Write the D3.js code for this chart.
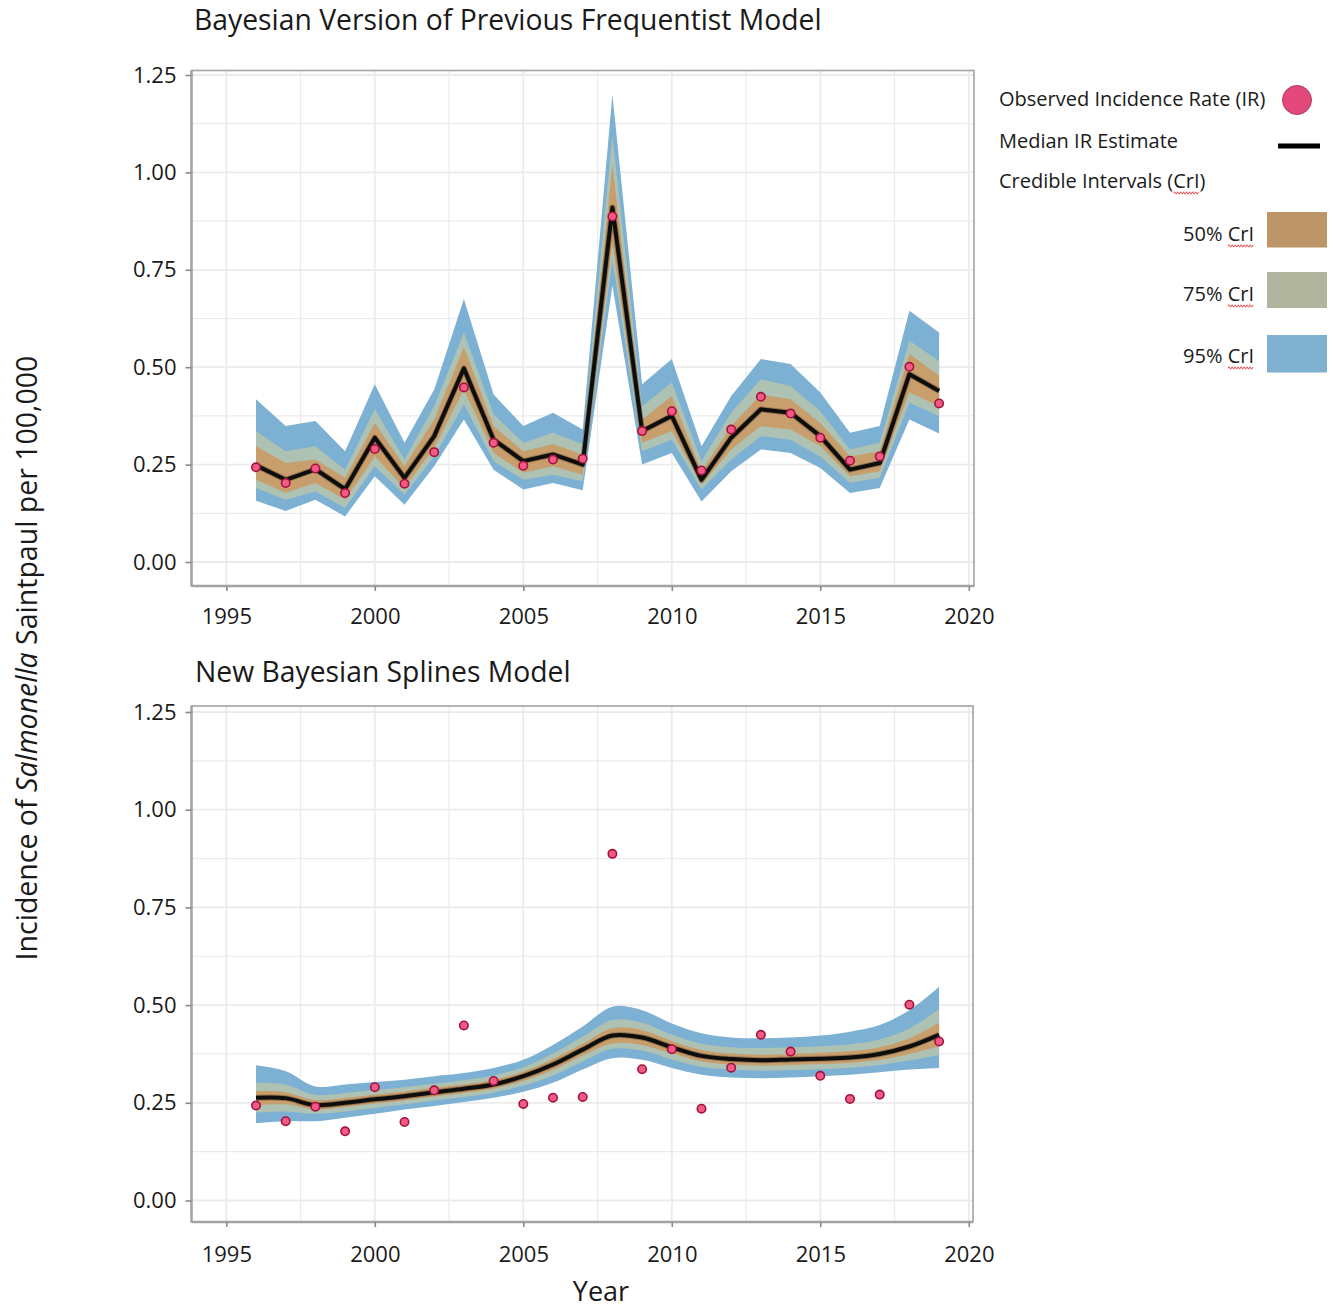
<!DOCTYPE html>
<html>
<head>
<meta charset="utf-8">
<script src="https://cdn.jsdelivr.net/npm/d3@7"></script>
<style>
  html, body { margin: 0; padding: 0; background: #ffffff; }
  svg { display: block; }
  text { font-family: "Open Sans", "Noto Sans", sans-serif; fill: #1a1a1a; }
</style>
</head>
<body>
<svg id="chart" width="1333" height="1308"></svg>
<script>
// ---------------- DATA ----------------
const years = [1996, 1997, 1998, 1999, 2000, 2001, 2002, 2003, 2004, 2005, 2006, 2007,
               2008, 2009, 2010, 2011, 2012, 2013, 2014, 2015, 2016, 2017, 2018, 2019];

// Observed incidence rate (same in both panels)
const observed = [0.243, 0.203, 0.240, 0.177, 0.290, 0.201, 0.282, 0.448, 0.306, 0.247, 0.263, 0.265,
                  0.887, 0.336, 0.387, 0.235, 0.340, 0.424, 0.381, 0.319, 0.260, 0.271, 0.501, 0.407];

// Top panel: Bayesian version of previous frequentist model
const topMedian = [0.248, 0.211, 0.238, 0.187, 0.319, 0.216, 0.323, 0.497, 0.314, 0.259, 0.276, 0.250,
                   0.910, 0.336, 0.375, 0.211, 0.319, 0.392, 0.383, 0.323, 0.237, 0.254, 0.482, 0.439];
const topLo95 = [0.157, 0.131, 0.160, 0.117, 0.220, 0.147, 0.246, 0.366, 0.237, 0.186, 0.203, 0.184,
                 0.710, 0.250, 0.280, 0.155, 0.233, 0.289, 0.280, 0.241, 0.177, 0.190, 0.366, 0.330];
const topHi95 = [0.418, 0.349, 0.362, 0.284, 0.456, 0.306, 0.443, 0.675, 0.430, 0.349, 0.383, 0.340,
                 1.200, 0.456, 0.521, 0.297, 0.426, 0.521, 0.508, 0.435, 0.332, 0.349, 0.645, 0.589];
const topLo75 = [0.190, 0.160, 0.181, 0.139, 0.246, 0.173, 0.271, 0.405, 0.259, 0.211, 0.224, 0.207,
                 0.775, 0.284, 0.314, 0.186, 0.263, 0.323, 0.314, 0.271, 0.203, 0.216, 0.409, 0.375];
const topHi75 = [0.336, 0.284, 0.297, 0.237, 0.392, 0.263, 0.400, 0.589, 0.379, 0.306, 0.332, 0.302,
                 1.095, 0.400, 0.461, 0.259, 0.383, 0.469, 0.452, 0.387, 0.289, 0.306, 0.568, 0.516];
const topLo50 = [0.211, 0.178, 0.203, 0.160, 0.271, 0.190, 0.293, 0.443, 0.280, 0.229, 0.246, 0.224,
                 0.815, 0.306, 0.336, 0.198, 0.289, 0.349, 0.340, 0.297, 0.220, 0.233, 0.435, 0.400];
const topHi50 = [0.297, 0.254, 0.263, 0.216, 0.357, 0.246, 0.366, 0.551, 0.349, 0.284, 0.302, 0.276,
                 1.020, 0.366, 0.426, 0.233, 0.349, 0.430, 0.418, 0.357, 0.271, 0.284, 0.534, 0.478];

// Bottom panel: new Bayesian splines model
const splMedian = [0.263, 0.262, 0.244, 0.250, 0.259, 0.267, 0.277, 0.286, 0.297, 0.318, 0.348, 0.386,
                   0.422, 0.417, 0.392, 0.370, 0.362, 0.359, 0.361, 0.363, 0.366, 0.375, 0.394, 0.424];
const splLo95 = [0.198, 0.203, 0.203, 0.212, 0.222, 0.233, 0.242, 0.252, 0.263, 0.278, 0.301, 0.335,
                 0.364, 0.360, 0.339, 0.322, 0.315, 0.313, 0.315, 0.318, 0.322, 0.328, 0.335, 0.339];
const splHi95 = [0.346, 0.331, 0.292, 0.297, 0.303, 0.309, 0.318, 0.326, 0.339, 0.360, 0.398, 0.445,
                 0.496, 0.487, 0.453, 0.428, 0.417, 0.415, 0.417, 0.422, 0.432, 0.449, 0.487, 0.547];
const splLo75 = [0.225, 0.228, 0.222, 0.228, 0.237, 0.246, 0.256, 0.265, 0.276, 0.294, 0.320, 0.356,
                 0.388, 0.384, 0.361, 0.342, 0.335, 0.332, 0.334, 0.336, 0.340, 0.347, 0.358, 0.372];
const splHi75 = [0.301, 0.296, 0.270, 0.275, 0.283, 0.290, 0.299, 0.308, 0.320, 0.341, 0.376, 0.419,
                 0.462, 0.455, 0.424, 0.401, 0.392, 0.390, 0.392, 0.395, 0.400, 0.412, 0.440, 0.490];
const splLo50 = [0.244, 0.246, 0.233, 0.239, 0.248, 0.256, 0.266, 0.275, 0.286, 0.306, 0.334, 0.371,
                 0.402, 0.398, 0.376, 0.356, 0.348, 0.345, 0.347, 0.349, 0.352, 0.360, 0.375, 0.395];
const splHi50 = [0.280, 0.277, 0.257, 0.262, 0.271, 0.279, 0.289, 0.297, 0.309, 0.330, 0.362, 0.401,
                 0.441, 0.436, 0.408, 0.385, 0.376, 0.373, 0.375, 0.378, 0.382, 0.392, 0.415, 0.455];

const xTicks = [1995, 2000, 2005, 2010, 2015, 2020];
const xMinor = [1997.5, 2002.5, 2007.5, 2012.5, 2017.5];
const yTicks = [0, 0.25, 0.5, 0.75, 1.0, 1.25];
const yMinor = [0.125, 0.375, 0.625, 0.875, 1.125];
const yTickLabels = ["0.00", "0.25", "0.50", "0.75", "1.00", "1.25"];

const legendItems = ["Observed Incidence Rate (IR)", "Median IR Estimate", "Credible Intervals (CrI)"];
const intervalLabels = ["50% CrI", "75% CrI", "95% CrI"];

// ---------------- STYLE ----------------
const C95 = "#7db1d3", C75 = "#aec2b4", C50 = "#c89e6c";
const L50 = "#bd9668", L75 = "#b2b59e", L95 = "#7fb0d0";
const GRID = "#ebebeb";
const BORDER = "#a3a3a3";
const TICK_FONT = "22px";
const TITLE_FONT = "28.3px";
const LEG_FONT = "20px";

const svg = d3.select("#chart");

function drawPanel(cfg) {
  const g = svg.append("g");
  const x = d3.scaleLinear().domain([1995, 2020]).range([226.3, 968.8]);
  const y = d3.scaleLinear().domain([0, 1.25]).range(cfg.yRange);
  const [L, R, T, B] = [cfg.left, cfg.right, cfg.top, cfg.bottom];

  // minor grid
  g.selectAll(".gmy").data(yMinor).join("line")
    .attr("x1", L).attr("x2", R).attr("y1", d => y(d)).attr("y2", d => y(d))
    .attr("stroke", GRID).attr("stroke-width", 1.2);
  g.selectAll(".gmx").data(xMinor).join("line")
    .attr("x1", d => x(d)).attr("x2", d => x(d)).attr("y1", T).attr("y2", B)
    .attr("stroke", GRID).attr("stroke-width", 1.2);
  // major grid
  g.selectAll(".gy").data(yTicks).join("line")
    .attr("x1", L).attr("x2", R).attr("y1", d => y(d)).attr("y2", d => y(d))
    .attr("stroke", GRID).attr("stroke-width", 1.8);
  g.selectAll(".gx").data(xTicks).join("line")
    .attr("x1", d => x(d)).attr("x2", d => x(d)).attr("y1", T).attr("y2", B)
    .attr("stroke", GRID).attr("stroke-width", 1.8);

  const curve = cfg.smooth ? d3.curveCatmullRom.alpha(0.5) : d3.curveLinear;
  const band = (lo, hi) => d3.area()
      .x((d, i) => x(years[i])).y0((d, i) => y(lo[i])).y1((d, i) => y(hi[i])).curve(curve);

  g.append("path").datum(years).attr("d", band(cfg.lo95, cfg.hi95)).attr("fill", C95);
  g.append("path").datum(years).attr("d", band(cfg.lo75, cfg.hi75)).attr("fill", C75);
  g.append("path").datum(years).attr("d", band(cfg.lo50, cfg.hi50)).attr("fill", C50);

  const line = d3.line().x((d, i) => x(years[i])).y(d => y(d)).curve(curve);
  g.append("path").datum(cfg.median).attr("d", line)
    .attr("fill", "none").attr("stroke", "#3a2a1a").attr("stroke-width", 6).attr("stroke-opacity", 0.35)
    .attr("stroke-linejoin", "round");
  g.append("path").datum(cfg.median).attr("d", line)
    .attr("fill", "none").attr("stroke", "#0d0d0d").attr("stroke-width", 4)
    .attr("stroke-linejoin", "round");

  g.selectAll(".pt").data(observed).join("circle")
    .attr("cx", (d, i) => x(years[i])).attr("cy", d => y(d)).attr("r", 4.2)
    .attr("fill", "#f25a86").attr("stroke", "#a3123d").attr("stroke-width", 1.6);

  // panel border
  g.append("rect").attr("x", L).attr("y", T).attr("width", R - L).attr("height", B - T)
    .attr("fill", "none").attr("stroke", BORDER).attr("stroke-width", 1.6);
  g.append("line").attr("x1", L).attr("x2", L).attr("y1", T).attr("y2", B)
    .attr("stroke", BORDER).attr("stroke-width", 2.4);
  g.append("line").attr("x1", L).attr("x2", R).attr("y1", B).attr("y2", B)
    .attr("stroke", BORDER).attr("stroke-width", 2.4);

  // axes (d3 axes, restyled)
  const yAxis = d3.axisLeft(y).tickValues(yTicks).tickSize(6).tickPadding(9)
    .tickFormat((d, i) => yTickLabels[i]);
  const ya = g.append("g").attr("transform", `translate(${L},0)`).call(yAxis);
  const xAxis = d3.axisBottom(x).tickValues(xTicks).tickSize(5).tickPadding(cfg.xPad)
    .tickFormat(d3.format("d"));
  const xa = g.append("g").attr("transform", `translate(0,${B})`).call(xAxis);
  [ya, xa].forEach(a => {
    a.select(".domain").remove();
    a.selectAll(".tick line").attr("stroke", "#8a8a8a").attr("stroke-width", 1.6);
    a.selectAll(".tick text").attr("fill", "#1a1a1a")
      .style("font-family", '"Open Sans", sans-serif').style("font-size", TICK_FONT);
  });

  svg.append("text").attr("x", cfg.titleX).attr("y", cfg.titleY)
    .style("font-size", TITLE_FONT).text(cfg.title);
}

drawPanel({
  title: "Bayesian Version of Previous Frequentist Model", titleX: 194, titleY: 30,
  left: 191.5, right: 974, top: 70.5, bottom: 586, xPad: 17,
  yRange: [562, 75],
  smooth: false,
  median: topMedian, lo95: topLo95, hi95: topHi95, lo75: topLo75, hi75: topHi75, lo50: topLo50, hi50: topHi50
});

drawPanel({
  title: "New Bayesian Splines Model", titleX: 195, titleY: 682,
  left: 191.5, right: 973, top: 706, bottom: 1222, xPad: 19,
  yRange: [1200.5, 712],
  smooth: true,
  median: splMedian, lo95: splLo95, hi95: splHi95, lo75: splLo75, hi75: splHi75, lo50: splLo50, hi50: splHi50
});

// Axis titles
const yt = svg.append("text")
  .attr("transform", "translate(37,658) rotate(-90)")
  .attr("text-anchor", "middle").style("font-size", "28.5px");
yt.append("tspan").text("Incidence of ");
yt.append("tspan").style("font-style", "italic").text("Salmonella");
yt.append("tspan").text(" Saintpaul per 100,000");

svg.append("text").attr("x", 601).attr("y", 1301).attr("text-anchor", "middle")
  .style("font-size", "27px").text("Year");

// ---------------- LEGEND ----------------
const lg = svg.append("g");
const measure = svg.append("text").style("font-size", LEG_FONT).attr("visibility", "hidden");
function textWidth(s) { measure.text(s); return measure.node().getComputedTextLength(); }
function squiggle(x0, x1, yy) {
  const p = d3.path();
  p.moveTo(x0, yy);
  let up = true;
  for (let xx = x0 + 1.5; xx <= x1; xx += 1.5) { p.lineTo(xx, yy + (up ? -1.2 : 1.2)); up = !up; }
  lg.append("path").attr("d", p.toString()).attr("fill", "none")
    .attr("stroke", "#e23a3a").attr("stroke-width", 0.9);
}

const legY = [106, 148, 188];
lg.selectAll(".lt").data(legendItems).join("text")
  .attr("x", 999).attr("y", (d, i) => legY[i]).style("font-size", LEG_FONT).text(d => d);
{
  const pre = textWidth("Credible Intervals (");
  const w = textWidth("CrI");
  squiggle(999 + pre, 999 + pre + w, 193);
}
lg.append("circle").attr("cx", 1297).attr("cy", 100).attr("r", 14.5)
  .attr("fill", "#e2487a").attr("stroke", "#a8405c").attr("stroke-width", 1);
lg.append("line").attr("x1", 1278).attr("x2", 1320).attr("y1", 146).attr("y2", 146)
  .attr("stroke", "#000").attr("stroke-width", 5);

const swY = [212, 272, 335];
const swH = [35.5, 36, 37.5];
const swC = [L50, L75, L95];
const labY = [241, 301, 363];
intervalLabels.forEach((lab, i) => {
  lg.append("rect").attr("x", 1267).attr("y", swY[i]).attr("width", 60).attr("height", swH[i])
    .attr("fill", swC[i]);
  lg.append("text").attr("x", 1254).attr("y", labY[i]).attr("text-anchor", "end")
    .style("font-size", LEG_FONT).text(lab);
  const w = textWidth("CrI");
  squiggle(1254 - w, 1254, labY[i] + 5);
});
measure.remove();
</script>
</body>
</html>
